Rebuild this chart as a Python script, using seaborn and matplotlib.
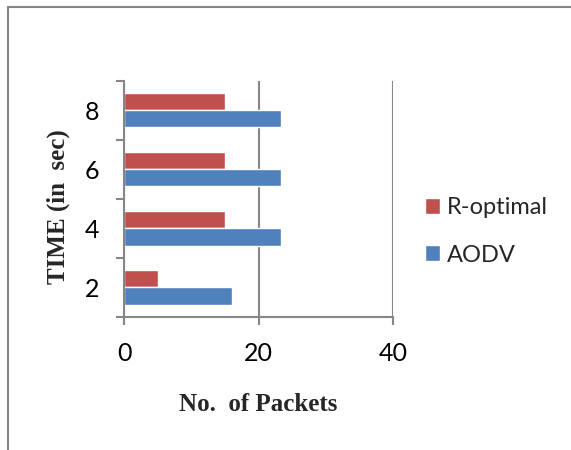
import pandas as pd
import numpy as np
import matplotlib.pyplot as plt
import seaborn as sns
from matplotlib.lines import Line2D
from matplotlib.ticker import FixedLocator

# ---------------------------
# Data
# ---------------------------
times = ["2", "4", "6", "8"]
aodv = [16, 23.3, 23.3, 23.3]
r_optimal = [5, 15, 15, 15]
protocols = ["R-optimal", "AODV"]
x_ticks = [0, 20, 40]

df = pd.DataFrame({
    "Time": times * 2,
    "Packets": r_optimal + aodv,
    "Protocol": ["R-optimal"] * len(times) + ["AODV"] * len(times),
})

# ---------------------------
# Plot
# ---------------------------
sns.set_theme(style="white")
plt.rcParams["font.family"] = ["Lato", "DejaVu Sans"]

grey = "#868686"
fig = plt.figure(figsize=(5.71, 4.5), dpi=100)
ax = fig.add_axes([0.2172, 0.2956, 0.6883 - 0.2172, 0.8207 - 0.2956])

sns.barplot(data=df, x="Packets", y="Time", hue="Protocol",
            order=times[::-1], hue_order=protocols,
            palette=["#C0504D", "#4F81BD"], width=0.58, saturation=1,
            orient="h", ax=ax)

ax.set_xlim(0, 40)
ax.set_ylim(3.5, -0.5)
ax.set_xticks(x_ticks)
ax.xaxis.grid(True, color=grey, linewidth=1.5)
ax.set_axisbelow(True)

# Excel style: ticks on category boundaries, labels between
ax.yaxis.set_minor_locator(FixedLocator(np.arange(-0.5, 4, 1)))
ax.tick_params(axis="y", which="major", length=0, pad=18, labelsize=18,
               colors="black")
ax.tick_params(axis="y", which="minor", left=True, length=6, width=1.5,
               color=grey, direction="out")
ax.tick_params(axis="x", which="major", bottom=True, length=6, width=1.5,
               color=grey, direction="out", pad=12, labelsize=18,
               labelcolor="black")

for side in ["top", "right"]:
    ax.spines[side].set_visible(False)
for side in ["left", "bottom"]:
    ax.spines[side].set_color(grey)
    ax.spines[side].set_linewidth(1.5)

ax.set_xlabel("No.  of Packets", family="Liberation Serif", fontweight="bold",
              fontsize=18, labelpad=20)
ax.set_ylabel("TIME (in  sec)", family="Liberation Serif", fontweight="bold",
              fontsize=18)
ax.yaxis.set_label_coords(-0.2, 0.465)

ax.legend(loc="center left", bbox_to_anchor=(0.744, 0.486),
          bbox_transform=fig.transFigure, frameon=False, fontsize=17,
          handlelength=0.65, handleheight=0.65, handletextpad=0.3,
          labelspacing=1.12, borderpad=0, borderaxespad=0)

# chart frame (top and left edges)
fig.add_artist(Line2D([8 / 571, 1], [1 - 7 / 450, 1 - 7 / 450],
                      color=grey, linewidth=1.5, transform=fig.transFigure))
fig.add_artist(Line2D([8 / 571, 8 / 571], [0, 1 - 7 / 450],
                      color=grey, linewidth=1.5, transform=fig.transFigure))

plt.savefig("out.png", dpi=100)
